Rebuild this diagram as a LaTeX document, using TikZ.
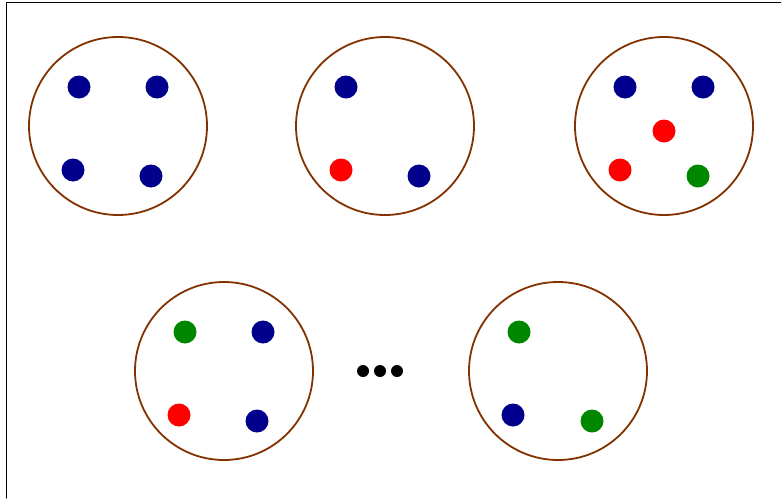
\documentclass[tikz,border=0pt]{standalone}
\usepackage{tikz}
\definecolor{marron}{RGB}{130,50,0}
\definecolor{azul}{RGB}{0,0,140}
\definecolor{rojo}{RGB}{255,0,0}
\definecolor{verde}{RGB}{0,135,0}
\begin{document}
\begin{tikzpicture}[x=1pt, y=-1pt, line cap=round, line join=round]
  \useasboundingbox (0,0) rectangle (781,498);
  % el marco
  \draw[line width=1.3pt] (6.5,498) -- (6.5,2.5) -- (781,2.5);
  % las bolsas
  \foreach \x/\y in {118/126, 385/126, 664/126, 224/371, 558/371} {
    \draw[marron, line width=1.8pt] (\x,\y) circle (89);
  }
  % las bolas
  \foreach \x/\y/\c in {79/87/azul, 157/87/azul, 73/170/azul, 151/176/azul,
                        346/87/azul, 341/170/rojo, 419/176/azul,
                        625/87/azul, 703/87/azul, 664/131/rojo, 620/170/rojo, 698/176/verde,
                        185/332/verde, 263/332/azul, 179/415/rojo, 257/421/azul,
                        519/332/verde, 513/415/azul, 592/421/verde} {
    \fill[\c] (\x,\y) circle (11.5);
  }
  % los puntos suspensivos
  \foreach \x in {363, 380, 397} {
    \fill (\x,371) circle (6);
  }
\end{tikzpicture}
\end{document}
